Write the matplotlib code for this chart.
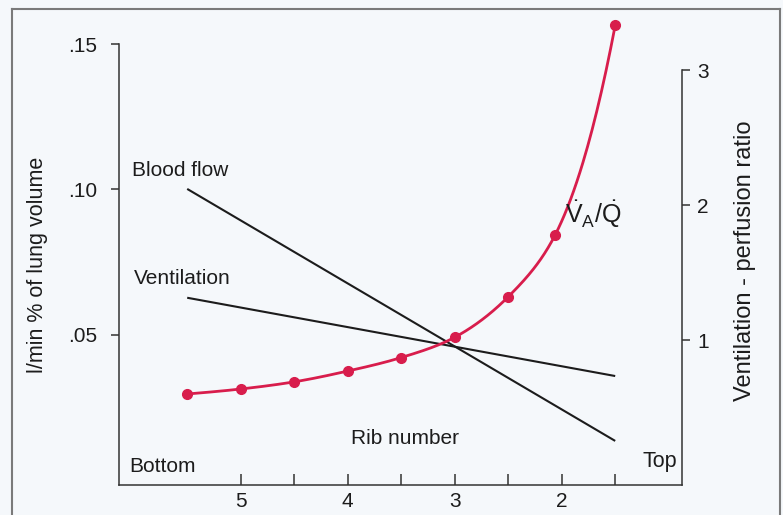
import numpy as np
import matplotlib
matplotlib.use("Agg")
import matplotlib.pyplot as plt
from matplotlib.lines import Line2D

# ---- data ----
rib_ticks = [5, 4.5, 4, 3.5, 3, 2.5, 2, 1.5]
rib_labels = ["5", "", "4", "", "3", "", "2", ""]
left_ticks = [0.05, 0.10, 0.15]
left_labels = [".05", ".10", ".15"]
right_ticks = [1, 2, 3]
right_labels = ["1", "2", "3"]

blood_x = [5.5, 1.5]
blood_y = [0.1002, 0.0136]
vent_x = [5.5, 1.5]
vent_y = [0.0628, 0.0359]

vq_x = [5.5, 5.0, 4.5, 4.0, 3.5, 3.0, 2.5, 2.06, 1.5]
vq_y = [0.60, 0.637, 0.69, 0.77, 0.87, 1.02, 1.32, 1.78, 3.33]

# ---- style ----
plt.rcParams['font.family'] = ['Liberation Sans', 'DejaVu Sans']
plt.rcParams['mathtext.fontset'] = 'custom'
plt.rcParams['mathtext.rm'] = 'Liberation Sans'
plt.rcParams['mathtext.it'] = 'Liberation Sans'

W, H = 783, 515
bg = '#f5f8fb'
red = '#d81d4c'
ink = '#1c1c1c'
spine_c = '#333333'

fig = plt.figure(figsize=(W / 100, H / 100), dpi=100, facecolor=bg)

def fx(px):
    return px / W

def fy(py):
    return 1 - py / H

ax_l, ax_r = 119, 682
ax_t, ax_b = 20, 485
ax = fig.add_axes([fx(ax_l), fy(ax_b), fx(ax_r) - fx(ax_l), fy(ax_t) - fy(ax_b)])
ax.set_facecolor('none')
ax2 = ax.twinx()
ax2.set_facecolor('none')

# x mapping: rib 5 at px 240.7, 107 px per rib
xl = 5 + (240.7 - ax_l) / 107.0
xr = 5 - (ax_r - 240.7) / 107.0
ax.set_xlim(xl, xr)

# left y: .15 at 44 px, 2910 px per unit
ylo = 0.15 - (ax_b - 44) / 2910.0
yhi = 0.15 + (44 - ax_t) / 2910.0
ax.set_ylim(ylo, yhi)

# right y: 3 at 70 px, 135 px per unit
y2lo = 3 - (ax_b - 70) / 135.0
y2hi = 3 + (70 - ax_t) / 135.0
ax2.set_ylim(y2lo, y2hi)

# black lines
ax.plot(blood_x, blood_y, color=ink, lw=1.5, solid_capstyle='butt')
ax.plot(vent_x, vent_y, color=ink, lw=1.5, solid_capstyle='butt')

# smooth red curve: cubic Hermite through the points in log space
xs = np.array(vq_x[::-1], dtype=float)
ys = np.log(np.array(vq_y[::-1], dtype=float))
h = np.diff(xs)
d = np.diff(ys) / h
m = np.zeros_like(ys)
m[0] = d[0] + (d[0] - d[1]) * h[0] / (h[0] + h[1]) * 0.5
m[-1] = d[-1] + (d[-1] - d[-2]) * h[-1] / (h[-1] + h[-2]) * 0.5
for i in range(1, len(xs) - 1):
    m[i] = (d[i - 1] * h[i] + d[i] * h[i - 1]) / (h[i - 1] + h[i])
xx, yy = [], []
for i in range(len(xs) - 1):
    t = np.linspace(0, 1, 40)
    h00 = 2 * t**3 - 3 * t**2 + 1
    h10 = t**3 - 2 * t**2 + t
    h01 = -2 * t**3 + 3 * t**2
    h11 = t**3 - t**2
    xx.extend(xs[i] + t * h[i])
    yy.extend(h00 * ys[i] + h10 * h[i] * m[i] + h01 * ys[i + 1] + h11 * h[i] * m[i + 1])
ax2.plot(xx, np.exp(yy), color=red, lw=2.0, zorder=3, clip_on=False)
ax2.plot(vq_x, vq_y, 'o', color=red, ms=7, zorder=4, clip_on=False)

# spines
for a in (ax, ax2):
    a.spines['top'].set_visible(False)
ax2.spines['left'].set_visible(False)
ax2.spines['bottom'].set_visible(False)
ax.spines['right'].set_visible(False)
for s in (ax.spines['left'], ax.spines['bottom'], ax2.spines['right']):
    s.set_color(spine_c)
    s.set_linewidth(1.1)
ax.spines['left'].set_bounds(ylo, 0.15)
ax2.spines['right'].set_bounds(y2lo, 3)

# ticks
ax.set_xticks(rib_ticks)
ax.set_xticklabels(rib_labels)
ax.tick_params(axis='x', direction='in', length=8, width=1.1, color=spine_c,
               labelsize=15, pad=5, labelcolor=ink)
ax.set_yticks(left_ticks)
ax.set_yticklabels(left_labels)
ax.tick_params(axis='y', direction='out', length=6, width=1.1, color=spine_c,
               labelsize=15, pad=10, labelcolor=ink)
ax2.set_yticks(right_ticks)
ax2.set_yticklabels(right_labels)
ax2.tick_params(axis='y', direction='out', length=6, width=1.1, color=spine_c,
                labelsize=15, pad=5, labelcolor=ink)

# texts
fs = 15
fig.text(fx(132), fy(171), "Blood flow", fontsize=fs, color=ink, ha='left', va='center')
fig.text(fx(134), fy(278), "Ventilation", fontsize=fs, color=ink, ha='left', va='center')
fig.text(fx(565), fy(214), r"$\mathrm{\dot{V}_A/\dot{Q}}$", fontsize=18, color=ink,
         ha='left', va='center')
fig.text(fx(405), fy(438), "Rib number", fontsize=fs, color=ink, ha='center', va='center')
fig.text(fx(129), fy(466), "Bottom", fontsize=fs, color=ink, ha='left', va='center')
fig.text(fx(677), fy(462), "Top", fontsize=15.5, color=ink, ha='right', va='center')
fig.text(fx(38), fy(265), "l/min % of lung volume", fontsize=15.5, color=ink,
         rotation=90, ha='center', va='center')
fig.text(fx(745), fy(261), "Ventilation - perfusion ratio", fontsize=17, color=ink,
         rotation=90, ha='center', va='center')

# outer frame (left, top, right)
fc = '#7a7a7a'
fig.add_artist(Line2D([fx(12), fx(12)], [0, fy(9)], color=fc, lw=1.5, transform=fig.transFigure))
fig.add_artist(Line2D([fx(12), fx(780)], [fy(9), fy(9)], color=fc, lw=1.5, transform=fig.transFigure))
fig.add_artist(Line2D([fx(780), fx(780)], [fy(9), 0], color=fc, lw=1.5, transform=fig.transFigure))

fig.savefig("out.png", dpi=100, facecolor=bg)
